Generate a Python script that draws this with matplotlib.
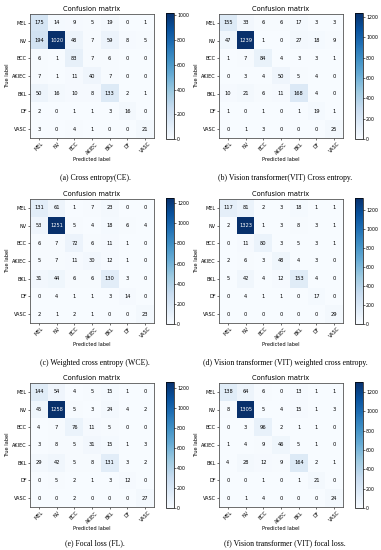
import numpy as np
import matplotlib
matplotlib.use("Agg")
import matplotlib.pyplot as plt

classes = ["MEL", "NV", "BCC", "AKIEC", "BKL", "DF", "VASC"]

cm_ce = [[175, 14, 9, 5, 19, 0, 1],
         [194, 1020, 48, 7, 59, 8, 5],
         [6, 1, 83, 7, 6, 0, 0],
         [7, 1, 11, 40, 7, 0, 0],
         [50, 16, 10, 8, 133, 2, 1],
         [2, 0, 1, 1, 3, 16, 0],
         [3, 0, 4, 1, 0, 0, 21]]
cm_vit_ce = [[155, 33, 6, 6, 17, 3, 3],
             [47, 1239, 1, 0, 27, 18, 9],
             [1, 7, 84, 4, 3, 3, 1],
             [0, 3, 4, 50, 5, 4, 0],
             [10, 21, 6, 11, 168, 4, 0],
             [1, 0, 1, 0, 1, 19, 1],
             [0, 1, 3, 0, 0, 0, 25]]
cm_wce = [[131, 61, 1, 7, 23, 0, 0],
          [53, 1251, 5, 4, 18, 6, 4],
          [6, 7, 72, 6, 11, 1, 0],
          [5, 7, 11, 30, 12, 1, 0],
          [31, 44, 6, 6, 130, 3, 0],
          [0, 4, 1, 1, 3, 14, 0],
          [2, 1, 2, 1, 0, 0, 23]]
cm_vit_wce = [[117, 81, 2, 3, 18, 1, 1],
              [2, 1323, 1, 3, 8, 3, 1],
              [0, 11, 80, 3, 5, 3, 1],
              [2, 6, 3, 48, 4, 3, 0],
              [5, 42, 4, 12, 153, 4, 0],
              [0, 4, 1, 1, 0, 17, 0],
              [0, 0, 0, 0, 0, 0, 29]]
cm_fl = [[144, 54, 4, 5, 15, 1, 0],
         [45, 1258, 5, 3, 24, 4, 2],
         [4, 7, 76, 11, 5, 0, 0],
         [3, 8, 5, 31, 15, 1, 3],
         [29, 42, 5, 8, 131, 3, 2],
         [0, 5, 2, 1, 3, 12, 0],
         [0, 0, 2, 0, 0, 0, 27]]
cm_vit_fl = [[138, 64, 6, 0, 13, 1, 1],
             [8, 1305, 5, 4, 15, 1, 3],
             [0, 3, 96, 2, 1, 1, 0],
             [1, 4, 9, 46, 5, 1, 0],
             [4, 28, 12, 9, 164, 2, 1],
             [0, 0, 1, 0, 1, 21, 0],
             [0, 1, 4, 0, 0, 0, 24]]

matrices = [cm_ce, cm_vit_ce, cm_wce, cm_vit_wce, cm_fl, cm_vit_fl]
captions = ["(a) Cross entropy(CE).",
            "(b) Vision transformer(VIT) Cross entropy.",
            "(c) Weighted cross entropy (WCE).",
            "(d) Vision transformer (VIT) weighted cross entropy.",
            "(e) Focal loss (FL).",
            "(f) Vision transformer (VIT) focal loss."]

W, H = 381, 550
fig = plt.figure(figsize=(W / 100, H / 100), dpi=100)

def fx(x):
    return x / W

def fy(y):
    return 1 - y / H

lefts = [30, 219]
tops = [14, 199, 383]
size = 124
cap_y = [178, 363, 543]

for i, cm in enumerate(matrices):
    r, c = divmod(i, 2)
    cm = np.array(cm)
    left, top = lefts[c], tops[r]
    ax = fig.add_axes([fx(left), fy(top + size), size / W, size / H])
    im = ax.imshow(cm, cmap="Blues", interpolation="nearest", aspect="auto")
    ax.set_title("Confusion matrix", fontsize=4.8, pad=2)
    ax.set_xticks(range(7))
    ax.set_yticks(range(7))
    ax.set_xticklabels(classes, rotation=45, fontsize=3.5)
    ax.set_yticklabels(classes, fontsize=3.5)
    ax.tick_params(length=1.5, width=0.4, pad=1)
    ax.set_xlabel("Predicted label", fontsize=3.6, labelpad=1)
    ax.set_ylabel("True label", fontsize=3.6, labelpad=1)
    for sp in ax.spines.values():
        sp.set_linewidth(0.6)
        sp.set_color("#555555")
    thresh = cm.max() / 2.0
    for a in range(7):
        for b in range(7):
            ax.text(b, a, str(cm[a, b]), ha="center", va="center", fontsize=3.7,
                    color="white" if cm[a, b] > thresh else "black")
    cax = fig.add_axes([fx(left + 136), fy(top + size + 1), 7.5 / W, (size + 2) / H])
    cb = fig.colorbar(im, cax=cax)
    cb.ax.tick_params(labelsize=3.4, length=1.5, width=0.4, pad=1)
    cb.outline.set_linewidth(0.5)
    cb.set_ticks(np.arange(0, cm.max() + 1, 200))
    fig.text(fx(95 + c * 190), fy(cap_y[r]), captions[i], ha="center", va="center",
             fontsize=5.6, family="Liberation Serif")

fig.savefig("out.png", dpi=100)
